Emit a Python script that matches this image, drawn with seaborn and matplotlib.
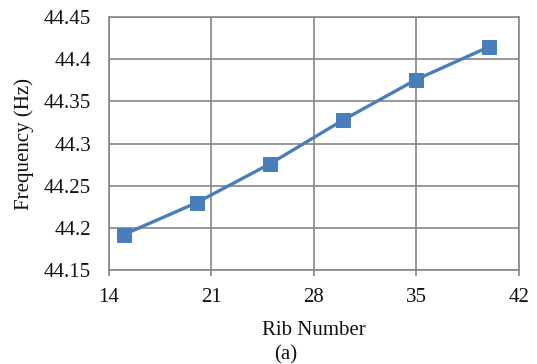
import matplotlib
matplotlib.use("Agg")
import matplotlib.pyplot as plt
import seaborn as sns
import pandas as pd

rib_number = [15, 20, 25, 30, 35, 40]
frequency_hz = [44.192, 44.230, 44.276, 44.328, 44.376, 44.415]
x_ticks = [14, 21, 28, 35, 42]
y_ticks = [44.15, 44.2, 44.25, 44.3, 44.35, 44.4, 44.45]
y_tick_labels = ["44.15", "44.2", "44.25", "44.3", "44.35", "44.4", "44.45"]

df = pd.DataFrame({"Rib Number": rib_number, "Frequency (Hz)": frequency_hz})

sns.set_theme(style="white")
plt.rcParams["font.family"] = ["Liberation Serif", "DejaVu Serif"]

grid_color = "#868686"
blue = "#4A7EBB"
text_color = "#111111"
fs = 15

fig = plt.figure(figsize=(5.37, 3.64), dpi=100)
ax = fig.add_axes([0.203, 0.258, 0.763, 0.695])

sns.lineplot(data=df, x="Rib Number", y="Frequency (Hz)", ax=ax,
             color=blue, linewidth=2.4, marker="s", markersize=10,
             markeredgecolor=blue, markerfacecolor=blue)

ax.set_xlim(14, 42)
ax.set_ylim(44.15, 44.45)
ax.set_xticks(x_ticks)
ax.set_yticks(y_ticks)
ax.set_yticklabels(y_tick_labels)

ax.grid(True, color=grid_color, linewidth=1.2)
ax.set_axisbelow(True)
for s in ax.spines.values():
    s.set_color(grid_color)
    s.set_linewidth(1.2)

ax.tick_params(axis="x", which="major", direction="out", length=4.5,
               width=1.2, color=grid_color, labelsize=fs, pad=8.5, bottom=True)
ax.tick_params(axis="y", which="major", length=0, labelsize=fs, pad=13, left=False)
for lab in ax.get_xticklabels() + ax.get_yticklabels():
    lab.set_color(text_color)

ax.set_xlabel("Rib Number", fontsize=fs, color=text_color, va="center")
ax.xaxis.set_label_coords(0.5, -0.24)
ax.set_ylabel("Frequency (Hz)", fontsize=fs, color=text_color, va="center")
ax.yaxis.set_label_coords(-0.207, 0.5)
fig.text(0.532, 0.025, "(a)", fontsize=fs, ha="center", va="center", color=text_color)

fig.savefig("out.png", dpi=100, facecolor="white")
